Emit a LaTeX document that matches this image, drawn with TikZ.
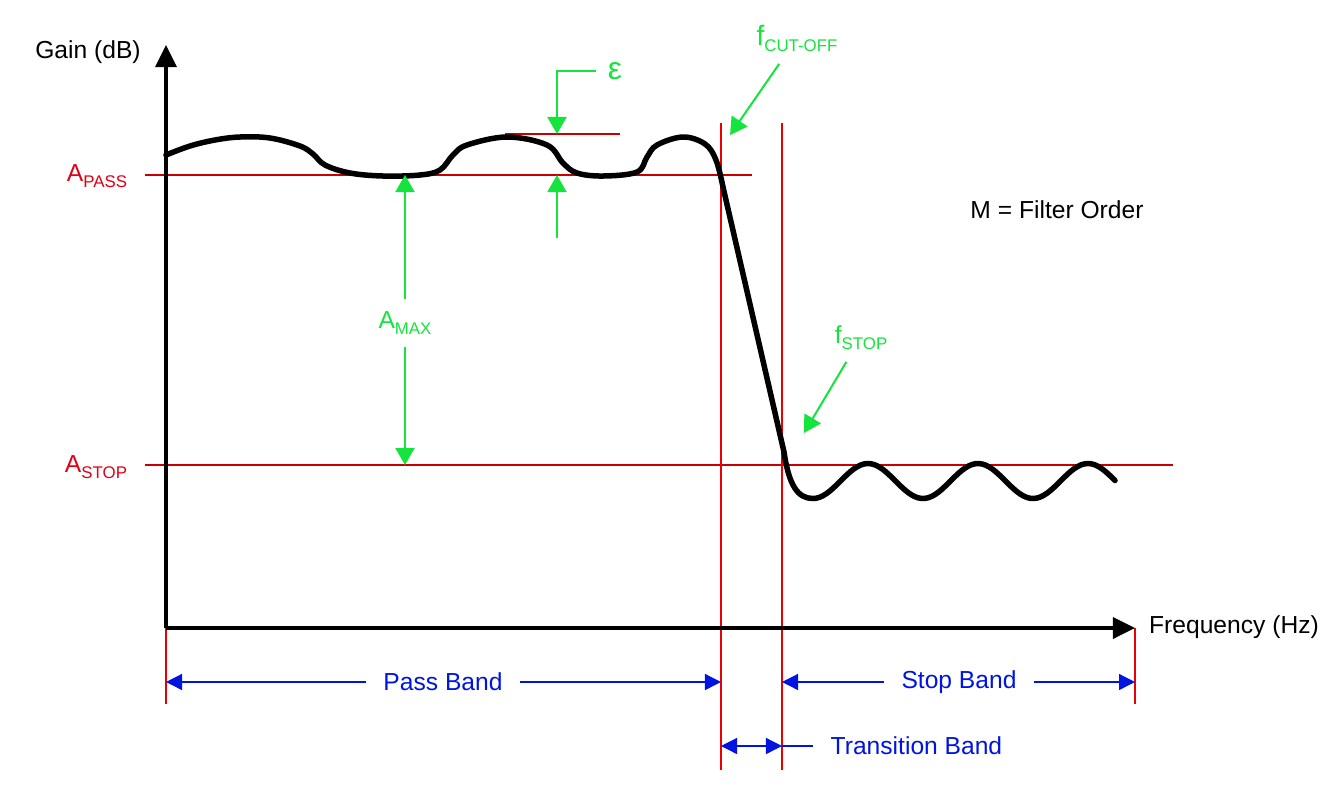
\documentclass[tikz,border=0pt]{standalone}
\usepackage{fontspec}
\setmainfont{Liberation Sans}
\usetikzlibrary{arrows.meta}
\newcommand{\lowsub}[1]{\raisebox{-1.8pt}{\fontsize{4.8pt}{5pt}\selectfont #1}}

\begin{document}
\begin{tikzpicture}[x=0.01cm,y=-0.01cm,
    every node/.style={font=\fontsize{7pt}{8pt}\selectfont},
    axis/.style={line width=0.035cm,-{Triangle[length=0.22cm,width=0.21cm]}},
    response/.style={line width=0.055cm,line join=round,line cap=round},
    levelline/.style={line width=0.014cm,color=filter_level},
    edgeline/.style={line width=0.013cm,color=filter_edge},
    markarrow/.style={line width=0.02cm,color=filter_mark,-{Triangle[length=0.17cm,width=0.19cm]}},
    bandarrow/.style={line width=0.013cm,color=filter_band,-{Triangle[length=0.16cm,width=0.16cm]}},
    bandlabel/.style={text=filter_band,inner sep=0.17cm}]
    \definecolor{filter_level}{RGB}{200,0,0}
    \definecolor{filter_edge}{RGB}{235,0,0}
    \definecolor{filter_label}{RGB}{225,0,20}
    \definecolor{filter_mark}{RGB}{20,228,60}
    \definecolor{filter_band}{RGB}{0,20,225}
    \useasboundingbox (0,0) rectangle (1342,784);

    % axes
    \coordinate (origin) at (166,628);
    \coordinate (ytop) at (166,45);
    \coordinate (xend) at (1135,628);
    \node (gain) at (88,52) {Gain (dB)};
    \node (freq) at (1234,627) {Frequency (Hz)};

    % levels and band edges
    \coordinate (passL) at (145,175);
    \coordinate (passR) at (752,175);
    \coordinate (stopL) at (145,465);
    \coordinate (stopR) at (1173,465);
    \coordinate (rippleL) at (505,134);
    \coordinate (rippleR) at (620,134);
    \draw[levelline] (passL) to (passR);
    \draw[levelline] (stopL) to (stopR);
    \draw[levelline] (rippleL) to (rippleR);
    \node[anchor=base,text=filter_label] (apass) at (97,181) {A\lowsub{PASS}};
    \node[anchor=base,text=filter_label] (astop) at (96,472) {A\lowsub{STOP}};

    \coordinate (cutTop) at (721,123);
    \coordinate (cutBot) at (721,770);
    \coordinate (edgeTop) at (782,123);
    \coordinate (edgeBot) at (782,770);
    \coordinate (startBot) at (166,704);
    \coordinate (endBot) at (1135,704);
    \draw[edgeline] (cutTop) to (cutBot);
    \draw[edgeline] (edgeTop) to (edgeBot);
    \draw[edgeline] (origin) to (startBot);
    \draw[edgeline,line width=0.025cm] (xend) to (endBot);

    \draw[axis] (origin) to (ytop);
    \draw[axis] (origin) to (xend);

    % response
    \draw[response] plot[smooth,tension=0.6] coordinates {(166,155) (190,146) (215,140) (240,137) (270,138) (300,146) (313,154) (325,165) (350,173) (383,176) (420,175) (440,170) (453,155) (467,145) (507,137) (547,145) (563,163) (577,173) (603,176) (637,172) (647,157) (657,145) (683,137) (705,144) (716,160) (723,187)}
        -- (784,452) .. controls (789,486) and (798,498.5) .. (813,498.5)
        -- plot[domain=813:1115,samples=90] (\x,{481+17.5*cos((\x-813)*3.2727)});

    % green marks
    \coordinate (amaxTop) at (405,175);
    \coordinate (amaxBot) at (405,465);
    \node[anchor=base,text=filter_mark] (amax) at (405,328) {A\lowsub{MAX}};
    \draw[markarrow] (amax) to (amaxTop);
    \draw[markarrow] (amax) to (amaxBot);

    \coordinate (epsTip) at (557,134);
    \coordinate (epsLow) at (557,238);
    \coordinate (epsLowTip) at (557,175);
    \node[text=filter_mark,font=\fontsize{9pt}{10pt}\selectfont] (eps) at (615,71) {ε};
    \draw[markarrow] (eps) -| (epsTip);
    \draw[markarrow] (epsLow) to (epsLowTip);

    \node[anchor=base,text=filter_mark,font=\fontsize{8pt}{9pt}\selectfont] (fcut) at (797,45) {f\lowsub{CUT-OFF}};
    \coordinate (cutTip) at (730,135);
    \draw[markarrow] (fcut) to (cutTip);
    \node[anchor=base,text=filter_mark] (fstop) at (861,343) {f\lowsub{STOP}};
    \coordinate (stopTip) at (804,433);
    \draw[markarrow] (fstop) to (stopTip);

    \node (order) at (1057,210) {M = Filter Order};

    % bands
    \coordinate (pbL) at (166,682);
    \coordinate (pbR) at (721,682);
    \coordinate (sbL) at (782,682);
    \coordinate (sbR) at (1135,682);
    \coordinate (tbL) at (721,746);
    \coordinate (tbR) at (782,746);
    \node[bandlabel] (passband) at (443,682) {Pass Band};
    \node[bandlabel] (stopband) at (959,682) {Stop Band};
    \node[bandlabel,anchor=west] (transband) at (813,746) {Transition Band};
    \draw[bandarrow] (passband) to (pbL);
    \draw[bandarrow] (passband) to (pbR);
    \draw[bandarrow] (stopband) to (sbL);
    \draw[bandarrow] (stopband) to (sbR);
    \draw[bandarrow,{Triangle[length=0.16cm,width=0.16cm]}-{Triangle[length=0.16cm,width=0.16cm]}] (tbL) to (tbR);
    \draw[bandarrow,-] (tbR) to (transband);
\end{tikzpicture}
\end{document}
